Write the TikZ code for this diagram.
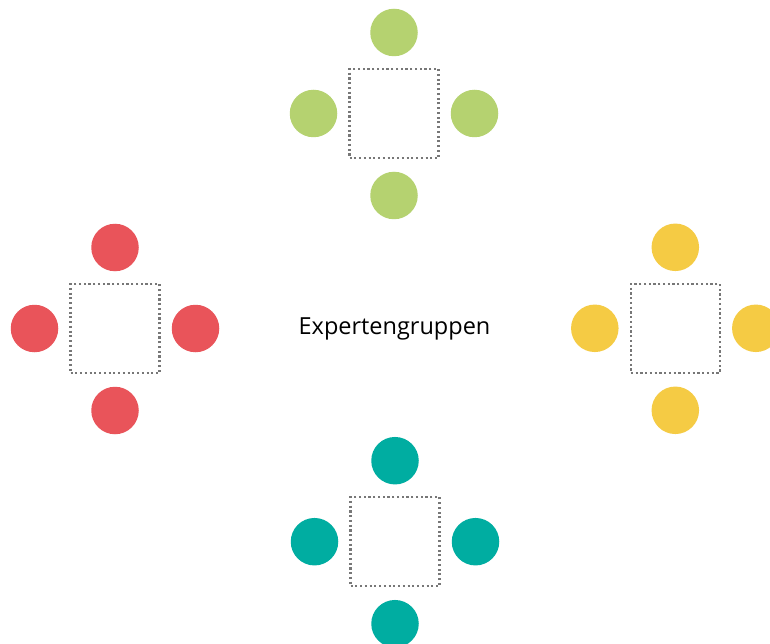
\documentclass[tikz,border=0pt]{standalone}
\usepackage{fontspec}
\setmainfont{Open Sans}
\definecolor{cgreen}{HTML}{B5D270}
\definecolor{cred}{HTML}{E9545A}
\definecolor{cyellow}{HTML}{F5CB44}
\definecolor{cteal}{HTML}{00ADA1}
\definecolor{cdot}{HTML}{777777}
\begin{document}
\begin{tikzpicture}[x=1pt,y=-1pt,
  seat/.style={circle,minimum size=47.5pt,inner sep=0pt,draw=none},
  tablebox/.style={draw=cdot,line width=2.3pt,dash pattern=on 2.2pt off 2.55pt,minimum width=89pt,minimum height=89pt,inner sep=0pt},
  lbl/.style={font=\fontsize{23.5}{27}\selectfont,text=black}]
\useasboundingbox[fill=white] (0,0) rectangle (770,644);
\newcommand{\grp}[4]{%
  \node[tablebox] (#1t) at (#2,#3) {};
  \node[seat,fill=#4] (#1n) at (#2,#3-81) {};
  \node[seat,fill=#4] (#1s) at (#2,#3+82) {};
  \node[seat,fill=#4] (#1w) at (#2-80.5,#3) {};
  \node[seat,fill=#4] (#1e) at (#2+80.5,#3) {};
}
\grp{g}{394}{113.5}{cgreen}
\grp{r}{115}{328.5}{cred}
\grp{y}{675.3}{328.3}{cyellow}
\grp{b}{395}{541.7}{cteal}
\node[lbl] (title) at (394.5,329) {Expertengruppen};
\end{tikzpicture}
\end{document}
